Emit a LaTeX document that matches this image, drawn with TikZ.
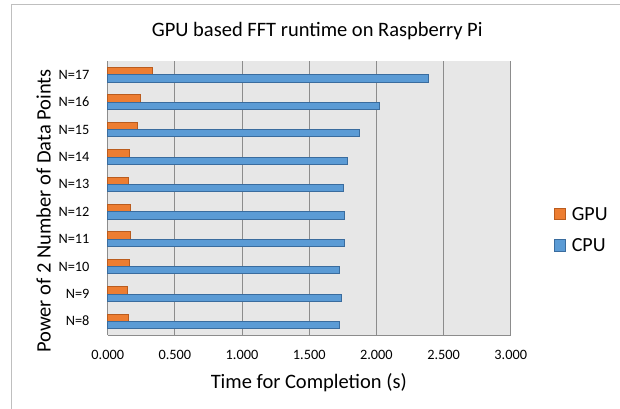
\documentclass[tikz,border=0pt]{standalone}
\usepackage{fontspec}
\setmainfont{Carlito}
\usepackage{tikz}
\usetikzlibrary{positioning}
\definecolor{gpuorange}{RGB}{237,125,49}
\definecolor{gpuedge}{RGB}{186,92,30}
\definecolor{cpublue}{RGB}{91,155,213}
\definecolor{cpuedge}{RGB}{58,108,158}
\definecolor{plotgray}{RGB}{231,231,231}
\definecolor{gridgray}{RGB}{140,140,140}
\definecolor{framegray}{RGB}{191,191,191}

\begin{document}
\begin{tikzpicture}[x=1pt, y=1pt,
  gpubar/.style={fill=gpuorange, draw=gpuedge, line width=0.8pt},
  cpubar/.style={fill=cpublue, draw=cpuedge, line width=0.8pt},
  ticklabel/.style={font=\fontsize{14.3}{16}\selectfont},
  axistitle/.style={font=\fontsize{20.5}{24}\selectfont},
  legendtext/.style={font=\fontsize{20}{24}\selectfont, inner sep=0pt}]
  \useasboundingbox (0,0) rectangle (620,408);
  % chart frame (runs off at right and bottom)
  \draw[framegray, line width=1.2pt] (11.7,-10) -- (11.7,403.3) -- (630,403.3);

  \node[axistitle, anchor=base] (title) at (317.2,371.3) {GPU based FFT runtime on Raspberry Pi};

  % plot area, grid and x ticks
  \fill[plotgray] (107.7,73) rectangle (510.7,347);
  \foreach \k/\lab in {0/0.000, 1/0.500, 2/1.000, 3/1.500, 4/2.000, 5/2.500, 6/3.000} {
    \draw[gridgray, line width=0.9pt] (107.7+67.17*\k,73) -- (107.7+67.17*\k,347);
    \node[ticklabel, anchor=base] (tick\k) at (107.7+67.17*\k,48.7) {\lab};
  }
  \draw[gridgray, line width=0.9pt] (107.7,73) -- (510.7,73);

  % bars: N / gpu time / cpu time
  \foreach \n/\gpu/\cpu [count=\i from 0] in {8/0.156/1.722, 9/0.146/1.742, 10/0.161/1.722,
      11/0.171/1.762, 12/0.168/1.762, 13/0.156/1.752, 14/0.164/1.782, 15/0.220/1.871,
      16/0.243/2.022, 17/0.332/2.390} {
    \pgfmathsetmacro\yc{73+27.4*\i+13.7}
    \draw[gpubar] (107.7,\yc) rectangle ++(134.33*\gpu,7.3);
    \draw[cpubar] (107.7,\yc) rectangle ++(134.33*\cpu,-7.3);
    \node[ticklabel, anchor=base east] (lab\n) at (93,\yc-4.6) {N=\n};
  }

  \node[axistitle, anchor=base] (xtitle) at (308.8,19.7) {Time for Completion (s)};
  \node[axistitle, rotate=90, anchor=base] (ytitle) at (50.5,197) {Power of 2 Number of Data Points};

  % legend
  \node[gpubar, minimum size=11.4pt, inner sep=0pt] (keygpu) at (560,194) {};
  \node[legendtext, right=5.5pt of keygpu] (leggpu) {GPU};
  \node[cpubar, minimum size=11.4pt, inner sep=0pt] (keycpu) at (560,162.8) {};
  \node[legendtext, right=5.5pt of keycpu] (legcpu) {CPU};
\end{tikzpicture}
\end{document}
